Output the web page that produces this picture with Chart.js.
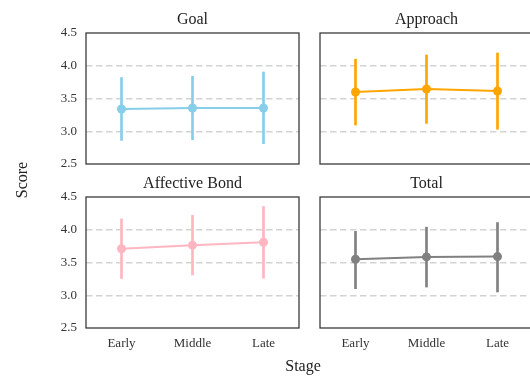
<!DOCTYPE html>
<html>
<head>
<meta charset="utf-8">
<script src="https://cdn.jsdelivr.net/npm/chart.js@4/dist/chart.umd.min.js"></script>
<style>
  html, body { margin: 0; padding: 0; background: #fff; overflow: hidden; }
  body { width: 530px; height: 377px; position: relative; }
  canvas { position: absolute; }
  .axis-label { position: absolute; font-family: "Liberation Serif", "DejaVu Serif", serif; font-size: 16px; color: #222; white-space: nowrap; }
</style>
</head>
<body>
<canvas id="cGoal" width="255" height="191" style="left:46px;top:3px"></canvas>
<canvas id="cApproach" width="255" height="191" style="left:280px;top:3px"></canvas>
<canvas id="cBond" width="255" height="191" style="left:46px;top:167px"></canvas>
<canvas id="cTotal" width="255" height="191" style="left:280px;top:167px"></canvas>
<div class="axis-label" id="ylab" style="left:22px;top:180px;transform:translate(-50%,-50%) rotate(-90deg)">Score</div>
<div class="axis-label" id="xlab" style="left:303px;top:366px;transform:translate(-50%,-50%)">Stage</div>
<script>
// Stages on the x axis
const stages = ['Early', 'Middle', 'Late'];
const yTicks = [2.5, 3.0, 3.5, 4.0, 4.5];

// Mean scores and 95% interval bounds per subscale
const goalMean = [3.34, 3.355, 3.355];
const goalLow  = [2.86, 2.87, 2.81];
const goalHigh = [3.82, 3.84, 3.905];

const approachMean = [3.60, 3.645, 3.615];
const approachLow  = [3.095, 3.12, 3.03];
const approachHigh = [4.10, 4.165, 4.195];

const bondMean = [3.71, 3.765, 3.81];
const bondLow  = [3.255, 3.31, 3.26];
const bondHigh = [4.165, 4.22, 4.355];

const totalMean = [3.55, 3.585, 3.59];
const totalLow  = [3.10, 3.125, 3.05];
const totalHigh = [3.975, 4.04, 4.11];

const FONT = '"Liberation Serif", "DejaVu Serif", serif';

// Frame around the plot area plus the panel heading
const framePlugin = {
  id: 'frame',
  afterDraw(chart, args, opts) {
    const { ctx, chartArea: a } = chart;
    ctx.save();
    ctx.strokeStyle = '#333';
    ctx.lineWidth = 1.25;
    ctx.strokeRect(a.left, a.top, a.right - a.left, a.bottom - a.top);
    ctx.fillStyle = '#222';
    ctx.font = '16px ' + FONT;
    ctx.textAlign = 'center';
    ctx.textBaseline = 'middle';
    ctx.fillText(opts.heading, (a.left + a.right) / 2, a.top - 13);
    ctx.restore();
  }
};

function panel(id, heading, color, mean, low, high, showX, showY) {
  new Chart(document.getElementById(id), {
    data: {
      labels: stages,
      datasets: [
        {
          type: 'line',
          data: mean,
          borderColor: color,
          backgroundColor: color,
          borderWidth: 2,
          pointRadius: 4.5,
          pointBorderWidth: 0,
          pointBackgroundColor: color,
          tension: 0,
          order: 0
        },
        {
          type: 'bar',
          data: stages.map((s, i) => [low[i], high[i]]),
          backgroundColor: color,
          borderWidth: 0,
          barThickness: 2,
          order: 1
        }
      ]
    },
    options: {
      responsive: false,
      animation: false,
      devicePixelRatio: 1,
      layout: { autoPadding: false, padding: { top: 30, right: 2, left: 0, bottom: 0 } },
      plugins: {
        legend: { display: false },
        tooltip: { enabled: false },
        frame: { heading }
      },
      scales: {
        x: {
          offset: true,
          grid: { display: false, drawTicks: false },
          border: { display: false },
          ticks: {
            display: showX,
            padding: 8,
            color: '#333',
            font: { family: FONT, size: 13 }
          },
          afterFit(scale) { scale.height = 30; }
        },
        y: {
          min: 2.5,
          max: 4.5,
          afterBuildTicks(scale) { scale.ticks = yTicks.map(v => ({ value: v })); },
          grid: {
            drawTicks: false,
            lineWidth: 1.5,
            color: (c) => (c.tick && (c.tick.value === 2.5 || c.tick.value === 4.5)) ? 'rgba(0,0,0,0)' : '#d3d3d3'
          },
          border: { display: false, dash: [6.5, 3.5] },
          ticks: {
            display: showY,
            padding: 9,
            color: '#333',
            font: { family: FONT, size: 13 },
            callback: (v) => Number(v).toFixed(1)
          },
          afterFit(scale) { scale.width = 40; }
        }
      }
    },
    plugins: [framePlugin]
  });
}

panel('cGoal', 'Goal', '#87CEEB', goalMean, goalLow, goalHigh, false, true);
panel('cApproach', 'Approach', '#FFA500', approachMean, approachLow, approachHigh, false, false);
panel('cBond', 'Affective Bond', '#FFB6C1', bondMean, bondLow, bondHigh, true, true);
panel('cTotal', 'Total', '#808080', totalMean, totalLow, totalHigh, true, false);
</script>
</body>
</html>
